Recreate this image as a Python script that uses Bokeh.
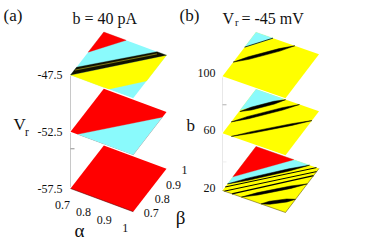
from bokeh.plotting import figure
from bokeh.models import Range1d
from bokeh.core.properties import value
from bokeh.embed import file_html
from bokeh.resources import INLINE
import math

RED = "#ff0000"
CYAN = "#8afafc"
YELLOW = "#ffff00"
BLACK = "#000000"

# ---- data: regions and stripes in (alpha, beta) parameter space ----
a_levels = [-47.5, -52.5, -57.5]
b_levels = [100, 60, 20]
param_ticks = [0.7, 0.8, 0.9, 1]

a_top_base = CYAN
a_top_red_alpha = [0.7, 0.7, 0.807]
a_top_red_beta = [0.859, 1, 1]
a_top_yellow_alpha = [0.7, 1, 1, 0.883]
a_top_yellow_beta = [0.7, 1, 0.82, 0.7]
a_top_black_alpha = [0.7, 0.7, 0.955, 1]
a_top_black_beta = [0.7, 0.754, 1, 1]
a_top_streak_alpha = [0.703, 0.961]
a_top_streak_beta = [0.736, 0.988]

a_mid_cyan_alpha = [0.735, 1, 1]
a_mid_cyan_beta = [0.7, 0.961, 0.7]

b_top_cyan_alpha = [0.7, 0.7, 0.781]
b_top_cyan_beta = [0.898, 1, 1]
b_top_lines = [
    ([0.7, 0.781], [0.898, 1], 0.8),
    ([0.7, 0.885], [0.796, 1], 2.6),
]

b_mid_cyan_alpha = [0.7, 0.7, 0.832]
b_mid_cyan_beta = [0.859, 1, 1]
b_mid_lines = [
    ([0.703, 0.841], [0.85, 1], 2.8),
    ([0.7, 0.907], [0.778, 1], 2.4),
    ([0.742, 1], [0.7, 0.937], 1.7),
]

b_bot_cyan_alpha = [0.7, 0.7, 0.955]
b_bot_cyan_beta = [0.745, 1, 1]
b_bot_red_alpha = [0.7, 0.7, 0.88]
b_bot_red_beta = [0.793, 1, 1]
b_bot_lines = [
    ([0.7, 0.955], [0.745, 1], 2.2),
    ([0.7, 0.988], [0.724, 1], 1.0),
    ([0.709, 1], [0.7, 0.979], 1.0),
    ([0.745, 1], [0.7, 0.952], 1.2),
    ([0.79, 1], [0.7, 0.895], 2.4),
    ([0.883, 1], [0.7, 0.79], 3.0),
]


# ---- projection of the 3-D box onto the page ----
def proj_a(alpha, beta, level):
    u, v = (alpha - 0.7) / 0.3, (beta - 0.7) / 0.3
    y0 = 74.5 + (-47.5 - level) * 56.75 / 5
    return 70 + 62.7 * u + 33.3 * v, y0 + 23.2 * u - 43 * v


def proj_b(alpha, beta, level):
    u, v = (alpha - 0.7) / 0.3, (beta - 0.7) / 0.3
    y0 = 75.7 + (100 - level) * 57.15 / 40
    return 222 + 63 * u + 33.5 * v, y0 + 22 * u - 44 * v


p = figure(width=388, height=249, x_range=Range1d(0, 388), y_range=Range1d(249, 0),
           output_backend="svg", toolbar_location=None, min_border=0,
           outline_line_color=None, background_fill_color="white")
p.axis.visible = False
p.grid.visible = False


def region(proj, level, alphas, betas, color):
    pts = [proj(a, b, level) for a, b in zip(alphas, betas)]
    p.patch([q[0] for q in pts], [q[1] for q in pts], fill_color=color,
            line_color=color, line_width=0.3)


def base(proj, level, color):
    al, be = [0.7, 1, 1, 0.7], [0.7, 0.7, 1, 1]
    pts = [proj(a, b, level) for a, b in zip(al, be)]
    xs, ys = [q[0] for q in pts], [q[1] for q in pts]
    p.patch(xs, ys, fill_color=color, line_color="white", line_width=2)
    p.patch(xs, ys, fill_color=color, line_color=None)


def stripe(proj, level, alphas, betas, w, color=BLACK, alpha=1.0):
    pts = [proj(a, b, level) for a, b in zip(alphas, betas)]
    (x0, y0), (x1, y1) = pts[0], pts[-1]
    if len(pts) > 2 or w <= 1.3:
        p.line([q[0] for q in pts], [q[1] for q in pts], line_color=color,
               line_width=w, line_alpha=alpha)
        return
    # black stripes thin out towards both ends
    L = math.hypot(x1 - x0, y1 - y0)
    nx, ny = -(y1 - y0) / L * w / 2, (x1 - x0) / L * w / 2
    f = [0.0, 0.25, 0.75, 1.0]
    xa = [x0 + (x1 - x0) * t for t in f]
    ya = [y0 + (y1 - y0) * t for t in f]
    xs = [xa[0], xa[1] + nx, xa[2] + nx, xa[3], xa[2] - nx, xa[1] - nx]
    ys = [ya[0], ya[1] + ny, ya[2] + ny, ya[3], ya[2] - ny, ya[1] - ny]
    p.patch(xs, ys, fill_color=color, line_color=color, line_width=0.5)


def label(x, y, s, size, align="center", color="#111111", font="Liberation Serif"):
    p.text([x], [y], text=[s], text_font=value(font), text_font_size=f"{size}px",
           text_align=align, text_baseline="middle", text_color=color)


# axes behind the surfaces
x0, y0 = proj_a(0.7, 0.7, a_levels[0])
x1, y1 = proj_a(0.7, 0.7, a_levels[-1])
p.line([x0, x1], [y0, y1], line_color="#c8c8c8", line_width=1)
xt, yt = proj_a(0.7, 0.7, -54)
p.line([xt, xt + 4], [yt, yt], line_color="#909090", line_width=1)
x0, y0 = proj_b(0.7, 0.7, b_levels[0])
x1, y1 = proj_b(0.7, 0.7, b_levels[-1])
p.line([x0, x1], [y0, y1], line_color="#e8e8e8", line_width=1)
for lv, col in [(80, "#b0b0b0"), (40, "#eeeeee")]:
    xt, yt = proj_b(0.7, 0.7, lv)
    p.line([xt, xt + 4], [yt, yt], line_color=col, line_width=1)

# panel (a)
base(proj_a, a_levels[0], a_top_base)
region(proj_a, a_levels[0], a_top_red_alpha, a_top_red_beta, RED)
region(proj_a, a_levels[0], a_top_yellow_alpha, a_top_yellow_beta, YELLOW)
region(proj_a, a_levels[0], a_top_black_alpha, a_top_black_beta, "#111100")
p.line([proj_a(a, b, a_levels[0])[0] for a, b in zip(a_top_streak_alpha, a_top_streak_beta)],
       [proj_a(a, b, a_levels[0])[1] for a, b in zip(a_top_streak_alpha, a_top_streak_beta)],
       line_color="#b8b020", line_width=0.8, line_alpha=0.8)
base(proj_a, a_levels[1], RED)
region(proj_a, a_levels[1], a_mid_cyan_alpha, a_mid_cyan_beta, CYAN)
base(proj_a, a_levels[2], RED)
stripe(proj_a, a_levels[2], [0.7, 1], [0.7, 0.7], 0.7, "#500000", 0.8)

# panel (b)
base(proj_b, b_levels[0], YELLOW)
region(proj_b, b_levels[0], b_top_cyan_alpha, b_top_cyan_beta, CYAN)
for al, be, w in b_top_lines:
    stripe(proj_b, b_levels[0], al, be, w)
base(proj_b, b_levels[1], YELLOW)
region(proj_b, b_levels[1], b_mid_cyan_alpha, b_mid_cyan_beta, CYAN)
for al, be, w in b_mid_lines:
    stripe(proj_b, b_levels[1], al, be, w)
base(proj_b, b_levels[2], YELLOW)
region(proj_b, b_levels[2], b_bot_cyan_alpha, b_bot_cyan_beta, CYAN)
region(proj_b, b_levels[2], b_bot_red_alpha, b_bot_red_beta, RED)
for al, be, w in b_bot_lines:
    stripe(proj_b, b_levels[2], al, be, w)
stripe(proj_b, b_levels[2], [0.7, 1, 1], [0.7, 0.7, 1], 0.7, "#605000", 0.8)

# tick labels on the surfaces' edges
for lv in a_levels:
    x, y = proj_a(0.7, 0.7, lv)
    label(x - 8, y, str(lv), 12, "right")
for lv in b_levels:
    x, y = proj_b(0.7, 0.7, lv)
    label(x - 7, y - 3, str(lv), 12, "right")
for t in param_ticks:
    x, y = proj_a(t, 0.7, a_levels[-1])
    label(x - 8, y + 16, str(t), 12)
    x, y = proj_a(1, t, a_levels[-1])
    label(x + 18, y + 1.5, str(t), 12)

# titles and axis names
label(3, 15, "(a)", 17, "left")
label(72, 18, "b = 40 pA", 16, "left")
label(179, 15, "(b)", 17, "left")
label(222, 18, "V", 16, "left")
label(234.5, 22, "r", 10.5, "left")
label(241, 18, "= -45 mV", 16, "left")
label(13, 124, "V", 17, "left")
label(24.5, 131, "r", 11.5, "left")
label(186, 125, "b", 17, "left")
label(79, 230, "\u03b1", 19)
label(180, 217, "\u03b2", 19)

open("out.html", "w").write(file_html(p, INLINE))
